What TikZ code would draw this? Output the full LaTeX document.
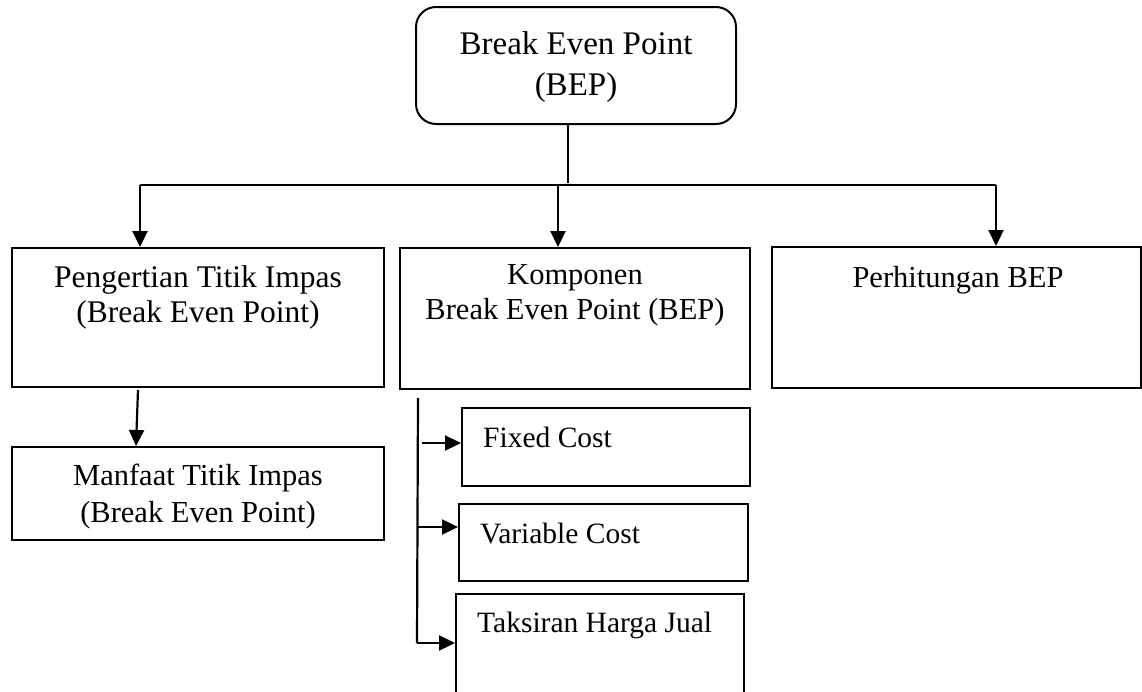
\documentclass[tikz,border=0pt]{standalone}
\usepackage{fontspec}
\setmainfont{Liberation Serif}
\usetikzlibrary{arrows.meta}
\tikzset{
  boxshape/.style={draw, line width=2pt, rectangle, inner sep=0pt},
  roundbox/.style={draw, line width=2pt, rectangle, rounded corners=20pt, inner sep=0pt},
  lbl/.style={anchor=base, inner sep=0pt, font=\fontsize{30.5}{36}\selectfont},
  lblleft/.style={anchor=base west, inner sep=0pt, font=\fontsize{29.5}{36}\selectfont},
  conn/.style={line width=2.2pt},
  arr/.style={line width=2.2pt, -{Triangle[length=16pt,width=15pt]}}
}
\begin{document}
\begin{tikzpicture}[x=1pt,y=-1pt]
\useasboundingbox (0,0) rectangle (1142,691);
% boxes
\node[roundbox, minimum width=320pt, minimum height=117pt] (top) at (576,65.5) {};
\node[boxshape, minimum width=372pt, minimum height=139pt] (peng) at (198,317.5) {};
\node[boxshape, minimum width=350pt, minimum height=141pt] (komp) at (575,318.5) {};
\node[boxshape, minimum width=369pt, minimum height=141pt] (perh) at (956.5,317.5) {};
\node[boxshape, minimum width=372pt, minimum height=93pt] (manf) at (198,493.5) {};
\node[boxshape, minimum width=288pt, minimum height=78pt] (fixed) at (606,447) {};
\node[boxshape, minimum width=289pt, minimum height=77pt] (var) at (603.5,542.5) {};
\node[boxshape, minimum width=288pt, minimum height=130pt] (taks) at (600,659) {};
% texts
\node[lbl, font=\fontsize{33}{40}\selectfont] (t1) at (576,54) {Break Even Point};
\node[lbl, font=\fontsize{33}{40}\selectfont] (t2) at (576,95) {(BEP)};
\node[lbl, font=\fontsize{31.5}{36}\selectfont] (p1) at (198,287) {Pengertian Titik Impas};
\node[lbl, font=\fontsize{31.5}{36}\selectfont] (p2) at (198,322) {(Break Even Point)};
\node[lbl] (k1) at (575,284) {Komponen};
\node[lbl] (k2) at (575,319) {Break Even Point (BEP)};
\node[lbl] (h1) at (958,287) {Perhitungan BEP};
\node[lbl] (m1) at (198,485) {Manfaat Titik Impas};
\node[lbl] (m2) at (198,522) {(Break Even Point)};
\node[lblleft] (f1) at (483,447) {Fixed Cost};
\node[lblleft] (v1) at (480,543) {Variable Cost};
\node[lblleft] (x1) at (477,632) {Taksiran Harga Jual};
% connectors
\coordinate (jt) at (568,183);
\coordinate (hl) at (140,185);
\coordinate (hr) at (996,185);
\coordinate (hm) at (558,185);
\draw[conn] (top.south -| jt) -- (jt);
\draw[conn] (hl) -- (hr);
\draw[arr] (hl) -- (hl |- peng.north);
\draw[arr] (hm) -- (hm |- komp.north);
\draw[arr] (hr) -- (hr |- perh.north);
\coordinate (pb) at (138,390);
\draw[arr] (pb) -- (136,447 |- manf.north);
\coordinate (vt) at (418,398);
\coordinate (vb) at (417,643);
\draw[conn] (vt) -- (vb);
\coordinate (a1) at (422,443);
\coordinate (a2) at (418,527);
\draw[arr] (a1) -- (a1 -| fixed.west);
\draw[arr] (a2) -- (a2 -| var.west);
\draw[arr] (vb) -- (vb -| taks.west);
\end{tikzpicture}
\end{document}
